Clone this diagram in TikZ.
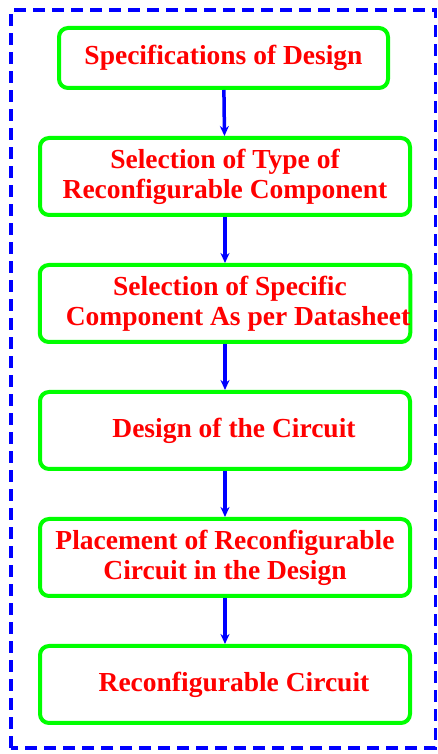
\documentclass[tikz,border=0pt]{standalone}
\usepackage{fontspec}
\setmainfont{Liberation Serif}
\usetikzlibrary{positioning,arrows.meta}

\begin{document}
\begin{tikzpicture}[
  x=1pt, y=1pt,
  node distance=46pt,
  stepbox/.style={draw=green, line width=4pt, rounded corners=9pt, minimum width=370pt, minimum height=77pt, inner sep=0pt, font=\fontsize{27.5}{30}\selectfont\bfseries, text=red, align=center},
  arr/.style={-{Stealth[length=10pt,width=9pt]}, line width=3.5pt, blue},
  frame/.style={draw=blue, line width=3.5pt, dash pattern=on 12pt off 7pt},
]
\useasboundingbox (0,0) rectangle (437,754);
% Outer frame
\draw[frame] (11,6) rectangle (435.5,744);

% Stages
\node[stepbox, minimum width=329pt, minimum height=60pt] (spec) at (223.5,696) {Specifications of Design};
\node[stepbox, below=46pt of spec, xshift=1.5pt] (type) {Selection of Type of\\Reconfigurable Component};
\node[stepbox, below=of type] (comp) {\hspace{10pt}Selection of Specific\\\hspace{26pt}Component As per Datasheet};
\node[stepbox, below=of comp] (circ) {\hspace{18pt}Design of the Circuit};
\node[stepbox, below=of circ] (place) {Placement of Reconfigurable\\Circuit in the Design};
\node[stepbox, below=of place] (rcirc) {\hspace{18pt}Reconfigurable Circuit};

% Connectors
\draw[arr] (spec) -- (type);
\draw[arr] (type) -- (comp);
\draw[arr] (comp) -- (circ);
\draw[arr] (circ) -- (place);
\draw[arr] (place) -- (rcirc);
\end{tikzpicture}
\end{document}
